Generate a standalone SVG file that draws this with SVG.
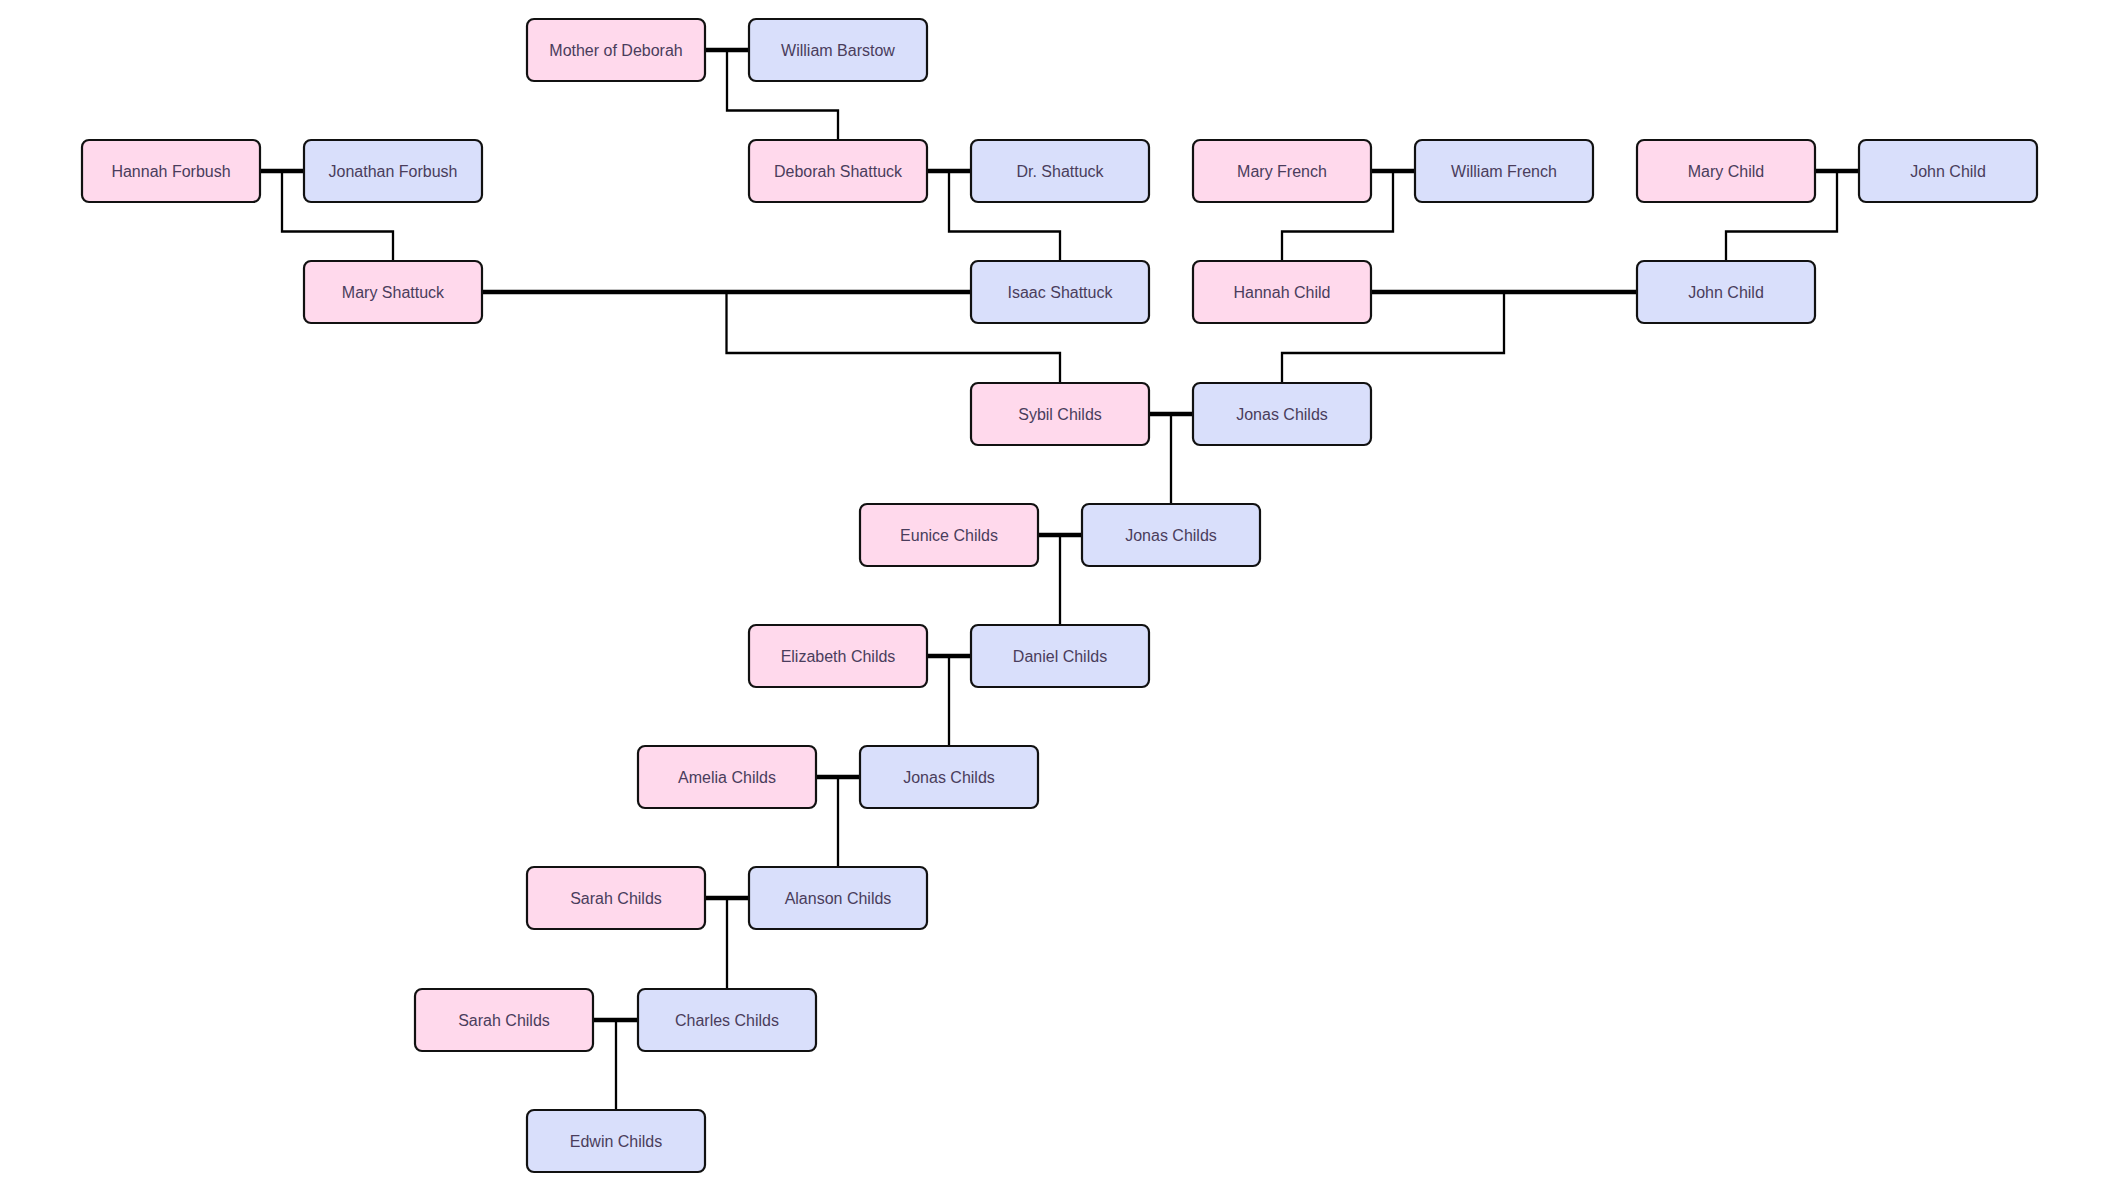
<svg xmlns="http://www.w3.org/2000/svg" width="2113" height="1188" viewBox="0 0 2113 1188">
<style>
.f rect{fill:#FFD9EC;stroke:#111;stroke-width:2.2}
.m rect{fill:#D9DFFB;stroke:#111;stroke-width:2.2}
text{font-family:"Liberation Sans",Arial,sans-serif;font-size:16px;fill:#4a3d5c;text-anchor:middle;dominant-baseline:central}
.mar{stroke:#000;stroke-width:4.5;fill:none}
.ch{stroke:#000;stroke-width:2.3;fill:none}
</style>
<defs>
<rect id="b" width="178" height="62" rx="7"/>
</defs>
<rect width="2113" height="1188" fill="#fff"/>
<g id="connectors">
<path class="mar" d="M705 50H749M260 171H304M927 171H971M1371 171H1415M1815 171H1859M482 292H971M1371 292H1637M1149 414H1193M1038 535H1082M927 656H971M816 777H860M705 898H749M593 1020H638"/>
<path class="ch" d="M727 50V110.5H838V140M282 171V231.5H393V261M949 171V231.5H1060V261M1393 171V231.5H1282V261M1837 171V231.5H1726V261M726.5 292V353H1060V383M1504 292V353H1282V383M1171 414V504M1060 535V625M949 656V746M838 777V867M727 898V989M616 1020V1110"/>
</g>
<g id="n1" class="f"><rect x="527" y="19" width="178" height="62" rx="7"/><text x="616" y="50">Mother of Deborah</text></g>
<g id="n2" class="m"><rect x="749" y="19" width="178" height="62" rx="7"/><text x="838" y="50">William Barstow</text></g>
<g id="n3" class="f"><rect x="82" y="140" width="178" height="62" rx="7"/><text x="171" y="171">Hannah Forbush</text></g>
<g id="n4" class="m"><rect x="304" y="140" width="178" height="62" rx="7"/><text x="393" y="171">Jonathan Forbush</text></g>
<g id="n5" class="f"><rect x="749" y="140" width="178" height="62" rx="7"/><text x="838" y="171">Deborah Shattuck</text></g>
<g id="n6" class="m"><rect x="971" y="140" width="178" height="62" rx="7"/><text x="1060" y="171">Dr. Shattuck</text></g>
<g id="n7" class="f"><rect x="1193" y="140" width="178" height="62" rx="7"/><text x="1282" y="171">Mary French</text></g>
<g id="n8" class="m"><rect x="1415" y="140" width="178" height="62" rx="7"/><text x="1504" y="171">William French</text></g>
<g id="n9" class="f"><rect x="1637" y="140" width="178" height="62" rx="7"/><text x="1726" y="171">Mary Child</text></g>
<g id="n10" class="m"><rect x="1859" y="140" width="178" height="62" rx="7"/><text x="1948" y="171">John Child</text></g>
<g id="n11" class="f"><rect x="304" y="261" width="178" height="62" rx="7"/><text x="393" y="292">Mary Shattuck</text></g>
<g id="n12" class="m"><rect x="971" y="261" width="178" height="62" rx="7"/><text x="1060" y="292">Isaac Shattuck</text></g>
<g id="n13" class="f"><rect x="1193" y="261" width="178" height="62" rx="7"/><text x="1282" y="292">Hannah Child</text></g>
<g id="n14" class="m"><rect x="1637" y="261" width="178" height="62" rx="7"/><text x="1726" y="292">John Child</text></g>
<g id="n15" class="f"><rect x="971" y="383" width="178" height="62" rx="7"/><text x="1060" y="414">Sybil Childs</text></g>
<g id="n16" class="m"><rect x="1193" y="383" width="178" height="62" rx="7"/><text x="1282" y="414">Jonas Childs</text></g>
<g id="n17" class="f"><rect x="860" y="504" width="178" height="62" rx="7"/><text x="949" y="535">Eunice Childs</text></g>
<g id="n18" class="m"><rect x="1082" y="504" width="178" height="62" rx="7"/><text x="1171" y="535">Jonas Childs</text></g>
<g id="n19" class="f"><rect x="749" y="625" width="178" height="62" rx="7"/><text x="838" y="656">Elizabeth Childs</text></g>
<g id="n20" class="m"><rect x="971" y="625" width="178" height="62" rx="7"/><text x="1060" y="656">Daniel Childs</text></g>
<g id="n21" class="f"><rect x="638" y="746" width="178" height="62" rx="7"/><text x="727" y="777">Amelia Childs</text></g>
<g id="n22" class="m"><rect x="860" y="746" width="178" height="62" rx="7"/><text x="949" y="777">Jonas Childs</text></g>
<g id="n23" class="f"><rect x="527" y="867" width="178" height="62" rx="7"/><text x="616" y="898">Sarah Childs</text></g>
<g id="n24" class="m"><rect x="749" y="867" width="178" height="62" rx="7"/><text x="838" y="898">Alanson Childs</text></g>
<g id="n25" class="f"><rect x="415" y="989" width="178" height="62" rx="7"/><text x="504" y="1020">Sarah Childs</text></g>
<g id="n26" class="m"><rect x="638" y="989" width="178" height="62" rx="7"/><text x="727" y="1020">Charles Childs</text></g>
<g id="n27" class="m"><rect x="527" y="1110" width="178" height="62" rx="7"/><text x="616" y="1141">Edwin Childs</text></g>
</svg>
